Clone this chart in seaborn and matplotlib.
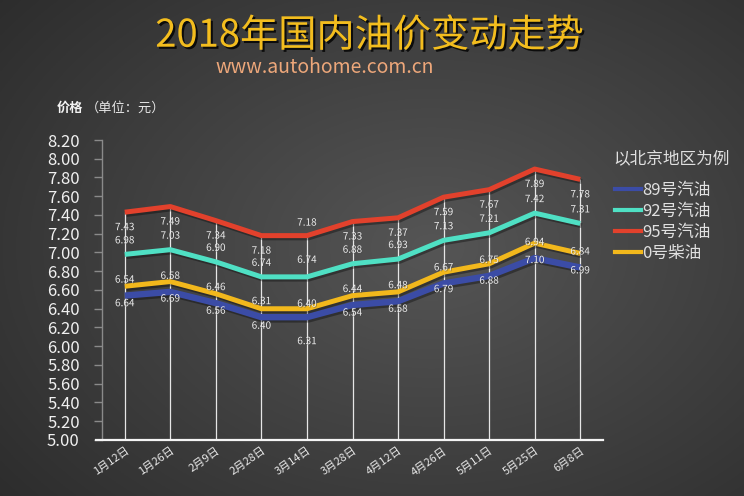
import numpy as np
import pandas as pd
import matplotlib
matplotlib.use("Agg")
import matplotlib.pyplot as plt
import matplotlib.patheffects as pe
import seaborn as sns

plt.rcParams["font.family"] = ["Noto Sans CJK SC", "DejaVu Sans"]

# 数据（北京地区，元/升）
dates = ["1月12日", "1月26日", "2月9日", "2月28日", "3月14日", "3月28日",
         "4月12日", "4月26日", "5月11日", "5月25日", "6月8日"]
series_names = ["89号汽油", "92号汽油", "95号汽油", "0号柴油"]
price_89 = [6.54, 6.58, 6.46, 6.31, 6.31, 6.44, 6.48, 6.67, 6.75, 6.94, 6.84]
price_92 = [6.98, 7.03, 6.90, 6.74, 6.74, 6.88, 6.93, 7.13, 7.21, 7.42, 7.31]
price_95 = [7.43, 7.49, 7.34, 7.18, 7.18, 7.33, 7.37, 7.59, 7.67, 7.89, 7.78]
price_0 = [6.64, 6.69, 6.56, 6.40, 6.40, 6.54, 6.58, 6.79, 6.88, 7.10, 6.99]
y_ticks = [5.00, 5.20, 5.40, 5.60, 5.80, 6.00, 6.20, 6.40, 6.60, 6.80,
           7.00, 7.20, 7.40, 7.60, 7.80, 8.00, 8.20]

colors = {"89号汽油": "#3b4ca6", "92号汽油": "#4fe0c4",
          "95号汽油": "#e2412c", "0号柴油": "#f2b81c"}
line_widths = {"89号汽油": 4.6, "92号汽油": 3.6, "95号汽油": 3.6, "0号柴油": 3.6}

# 数据标签偏移（像素，向上为正）
label_offset = {"89号汽油": 16, "92号汽油": 14, "95号汽油": -15, "0号柴油": -17}
label_offset_special = {4: {"89号汽油": -24, "92号汽油": 17,
                            "95号汽油": 13, "0号柴油": 5}}

df = pd.DataFrame({
    "x": list(range(len(dates))) * 4,
    "price": price_89 + price_92 + price_95 + price_0,
    "series": [s for s in series_names for _ in dates],
})

fig = plt.figure(figsize=(7.44, 4.96), dpi=100)

# 背景渐变
bg = fig.add_axes([0, 0, 1, 1], zorder=-10)
yy, xx = np.mgrid[0:1:300j, 0:1:450j]
r = np.sqrt(((xx - 0.58) / 0.75) ** 2 + ((yy - 0.5) / 0.8) ** 2)
shade = np.clip(0.335 - 0.16 * r, 0.16, 0.35)
bg.imshow(np.dstack([shade] * 3), aspect="auto", extent=[0, 1, 0, 1])
bg.axis("off")

ax = fig.add_axes([102 / 744, 1 - 440 / 496, 501 / 744, 300 / 496])
ax.set_facecolor("none")

# 垂直线（从最高点落到横轴）
ax.vlines(range(len(dates)), 5.0, price_95, color="#e6e6e6", lw=0.9, zorder=1)

sns.lineplot(data=df, x="x", y="price", hue="series", hue_order=series_names,
             palette=colors, lw=3.6, ax=ax, legend=True, zorder=3)
for line, name in zip(ax.lines, series_names):
    line.set_linewidth(line_widths[name])
    line.set_solid_capstyle("butt")
    line.set_path_effects([pe.SimpleLineShadow(offset=(1.2, -1.6), alpha=0.35),
                           pe.Normal()])

series_values = dict(zip(series_names, [price_89, price_92, price_95, price_0]))
for name in series_names:
    for i, v in enumerate(series_values[name]):
        off = label_offset_special.get(i, {}).get(name, label_offset[name])
        ax.annotate(f"{v:.2f}", (i, v), xytext=(0, off), textcoords="offset pixels",
                    ha="center", va="center", fontsize=7.2, color="#ececec",
                    zorder=5,
                    path_effects=[pe.withSimplePatchShadow(offset=(0.6, -0.6),
                                                           alpha=0.5)])

ax.set_xlim(-0.5, len(dates) - 0.5)
ax.set_ylim(5.0, 8.2)
ax.set_yticks(y_ticks)
ax.set_yticklabels([f"{t:.2f}" for t in y_ticks], fontsize=12, color="#f0f0f0")
ax.set_xticks(range(len(dates)))
ax.set_xticklabels(dates, rotation=35, ha="right", va="top", fontsize=8,
                   color="#e8e8e8", rotation_mode="anchor")
ax.tick_params(axis="x", length=0, pad=4)
ax.tick_params(axis="y", length=6, color="#8a8a8a", width=1, pad=10)
ax.set_xlabel("")
ax.set_ylabel("")
for s in ["top", "right", "bottom"]:
    ax.spines[s].set_visible(False)
ax.spines["left"].set_color("#8a8a8a")
ax.spines["left"].set_linewidth(1.0)
ax.plot([-0.012, 1.0], [0, 0], transform=ax.transAxes, color="#f4f4f4",
        lw=1.6, clip_on=False, zorder=6)

# 图例
fig.text(613 / 744, 1 - 159 / 496, "以北京地区为例", ha="left", va="center",
         fontsize=12, color="#e0e0e0")
handles, labels = ax.get_legend_handles_labels()
leg = ax.legend(handles, labels, loc="upper left",
                bbox_to_anchor=(615 / 744, 1 - 182 / 496),
                bbox_transform=fig.transFigure, frameon=False, fontsize=12,
                handlelength=1.55, handletextpad=0.1, labelspacing=0.24,
                borderpad=0, borderaxespad=0)
for t in leg.get_texts():
    t.set_color("#e0e0e0")
for h in leg.get_lines():
    h.set_linewidth(3)

# 标题
fig.text(0.497, 0.927, "2018年国内油价变动走势", ha="center", va="center",
         fontsize=27.5, color="#f3bd1e", fontweight="light",
         path_effects=[pe.withSimplePatchShadow(offset=(1.5, -1.5), alpha=0.8,
                                                shadow_rgbFace="#000000")])
fig.text(0.437, 0.863, "www.autohome.com.cn", ha="center", va="center",
         fontsize=14, color="#eda77a")
fig.text(57 / 744, 1 - 108 / 496, "价格", ha="left", va="center", fontsize=9.5,
         color="#f2f2f2", fontweight="bold")
fig.text(86 / 744, 1 - 108 / 496, "（单位：元）", ha="left", va="center",
         fontsize=9.5, color="#e6e6e6")

fig.savefig("out.png", dpi=100)
